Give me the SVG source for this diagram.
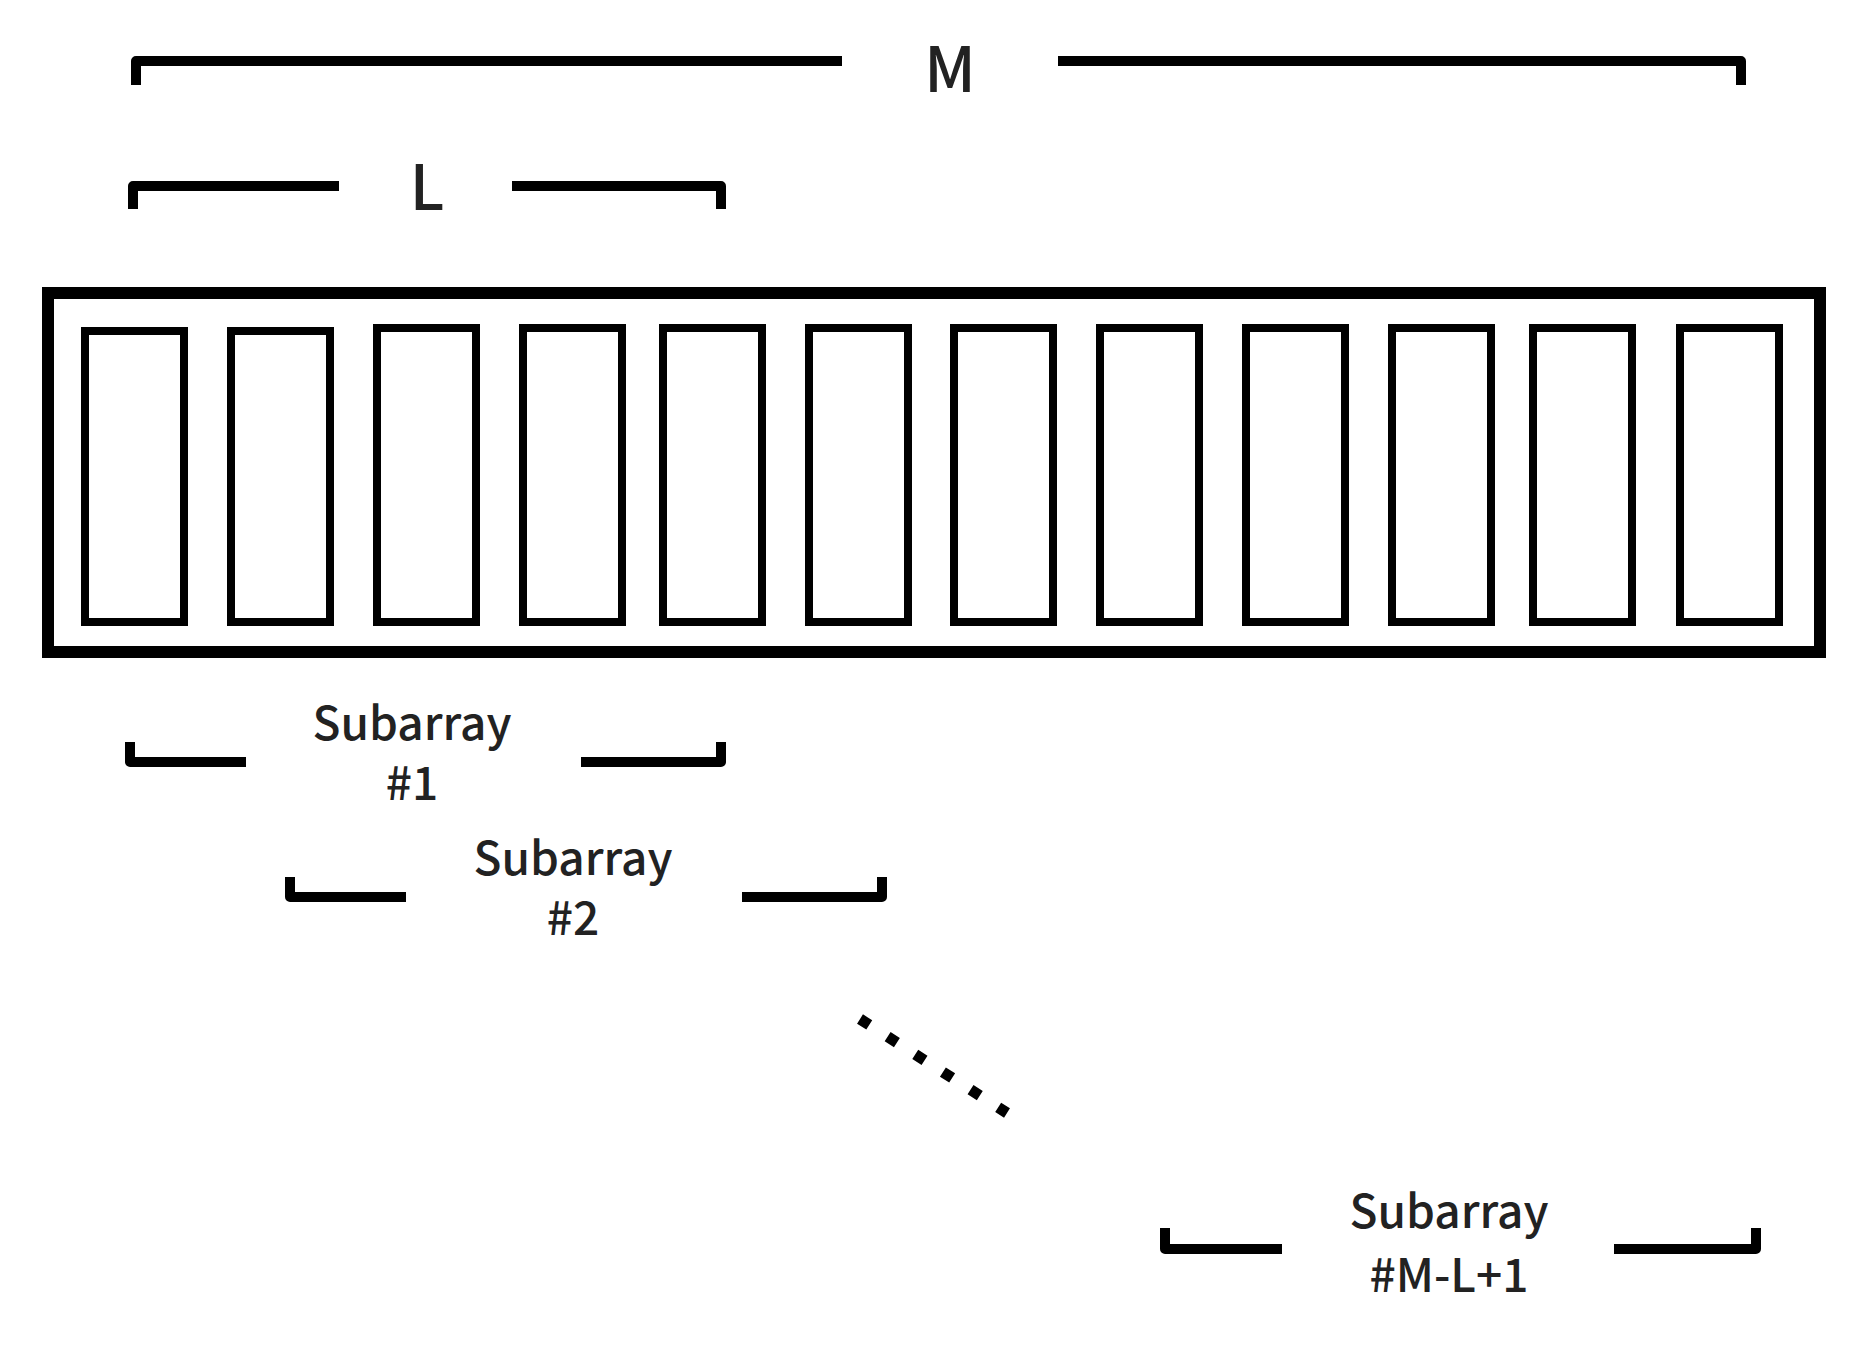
<svg xmlns="http://www.w3.org/2000/svg" width="1870" height="1347" viewBox="0 0 1870 1347">
<style>
.br{fill:none;stroke:#000;stroke-width:10;stroke-linejoin:round}
.cell{fill:none;stroke:#000;stroke-width:8}
.t{font-family:"Noto Sans CJK SC","Noto Sans",sans-serif;fill:#222;text-anchor:middle;font-weight:500}
</style>
<rect width="1870" height="1347" fill="#fff"/>
<g id="array">
<rect x="48" y="293" width="1772" height="359" fill="none" stroke="#000" stroke-width="12"/>
<rect class="cell" x="85" y="331" width="99" height="291"/>
<rect class="cell" x="231" y="331" width="99" height="291"/>
<rect class="cell" x="377" y="328" width="99" height="294"/>
<rect class="cell" x="523" y="328" width="99" height="294"/>
<rect class="cell" x="663" y="328" width="99" height="294"/>
<rect class="cell" x="809" y="328" width="99" height="294"/>
<rect class="cell" x="954" y="328" width="99" height="294"/>
<rect class="cell" x="1100" y="328" width="99" height="294"/>
<rect class="cell" x="1246" y="328" width="99" height="294"/>
<rect class="cell" x="1392" y="328" width="99" height="294"/>
<rect class="cell" x="1533" y="328" width="99" height="294"/>
<rect class="cell" x="1680" y="328" width="99" height="294"/>
</g>
<g id="labelM">
<path class="br" d="M136 85 V61 H842 M1058 61 H1741 V85" transform="translate(0,0)"/>
<text class="t" x="950" y="92" font-size="62">M</text>
</g>
<g id="labelL">
<path class="br" d="M133 209 V186 H339 M512 186 H721 V209"/>
<text class="t" x="427" y="210" font-size="62">L</text>
</g>
<g id="sub1">
<path class="br" d="M130 742 V762 H246 M581 762 H721 V742"/>
<text class="t" x="412" y="740" font-size="46">Subarray</text>
<text class="t" x="412" y="800" font-size="46">#1</text>
</g>
<g id="sub2">
<path class="br" d="M290 877 V897 H406 M742 897 H882 V877"/>
<text class="t" x="573" y="875" font-size="46">Subarray</text>
<text class="t" x="573" y="935" font-size="46">#2</text>
</g>
<g id="subML">
<path class="br" d="M1173 1228 V1249 H1290 M1622 1249 H1764 V1228" transform="translate(-8,0)"/>
<text class="t" x="1449" y="1228" font-size="46">Subarray</text>
<text class="t" x="1449" y="1292" font-size="46">#M-L+1</text>
</g>
<g id="connectors">
<line x1="860" y1="1019" x2="1007" y2="1113" stroke="#000" stroke-width="11" stroke-dasharray="11 21.8"/>
</g>
</svg>
